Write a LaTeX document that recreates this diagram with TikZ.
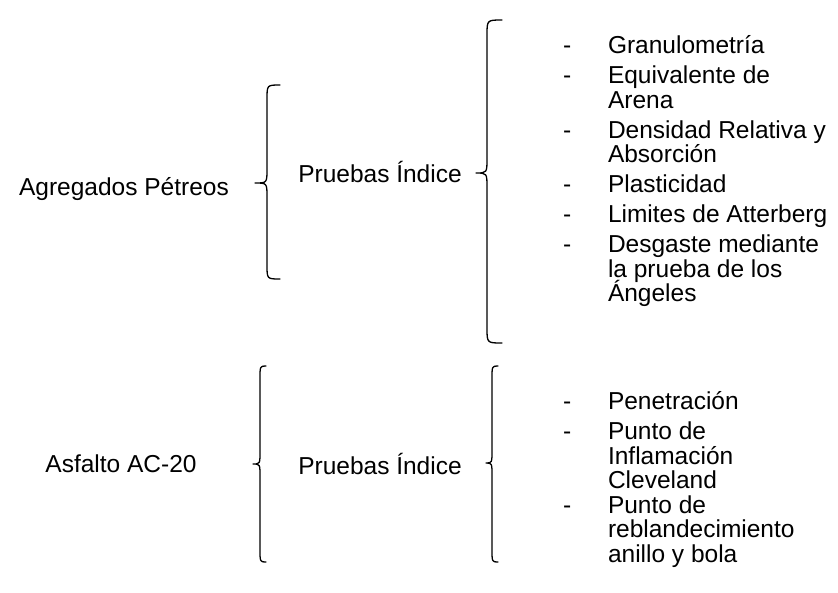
\documentclass[tikz,border=0pt]{standalone}
\usepackage{fontspec}
\setmainfont{Liberation Sans}
\newcommand{\curlybr}[7]{% xend xline xtip ytop ymid ybot r
  \draw[bracestyle] (#1,#4) .. controls (#2,#4) .. (#2,#4+#7) -- (#2,#5-#7)
    .. controls (#2,#5) .. (#3,#5) .. controls (#2,#5) .. (#2,#5+#7)
    -- (#2,#6-#7) .. controls (#2,#6) .. (#1,#6);}
\begin{document}
\begin{tikzpicture}[x=1pt,y=-1pt,
  bracestyle/.style={line width=1.3pt,line cap=round,line join=round},
  lbl/.style={font=\fontsize{24.5}{24.5}\selectfont,inner sep=0pt,outer sep=0pt},
  itm/.style={lbl,anchor=base west},
  dsh/.style={lbl,anchor=base west}]
\useasboundingbox (0,0) rectangle (838,592);
% left labels
\node[lbl] (agr) at (124,189) {Agregados Pétreos};
\node[lbl] (pr1) at (380,172) {Pruebas Índice};
\node[lbl] (asf) at (121,464) {Asfalto AC-20};
\node[lbl] (pr2) at (380,464) {Pruebas Índice};
% braces
\curlybr{280}{267}{255}{85}{183}{279}{14}
\curlybr{502}{487}{476}{20}{173}{343}{15}
\curlybr{266}{260}{253}{366}{464}{562}{13}
\curlybr{498}{492}{486}{366}{463}{562}{13}
% top list
\node[dsh] (d1) at (563,53.5) {-};
\node[itm] (t1) at (608,53.5) {Granulometría};
\node[dsh] (d2) at (563,83.5) {-};
\node[itm] (t2a) at (608,83.5) {Equivalente de};
\node[itm] (t2b) at (608,108) {Arena};
\node[dsh] (d3) at (563,138) {-};
\node[itm] (t3a) at (608,138) {Densidad Relativa y};
\node[itm] (t3b) at (608,162.5) {Absorción};
\node[dsh] (d4) at (563,192.5) {-};
\node[itm] (t4) at (608,192.5) {Plasticidad};
\node[dsh] (d5) at (563,222.5) {-};
\node[itm] (t5) at (608,222.5) {Limites de Atterberg};
\node[dsh] (d6) at (563,252.5) {-};
\node[itm] (t6a) at (608,252.5) {Desgaste mediante};
\node[itm] (t6b) at (608,277) {la prueba de los};
\node[itm] (t6c) at (608,301.5) {Ángeles};
% bottom list
\node[dsh] (e1) at (563,409.5) {-};
\node[itm] (b1) at (608,409.5) {Penetración};
\node[dsh] (e2) at (563,439.5) {-};
\node[itm] (b2a) at (608,439.5) {Punto de};
\node[itm] (b2b) at (608,464) {Inflamación};
\node[itm] (b2c) at (608,488.5) {Cleveland};
\node[dsh] (e3) at (563,513) {-};
\node[itm] (b3a) at (608,513) {Punto de};
\node[itm] (b3b) at (608,537.5) {reblandecimiento};
\node[itm] (b3c) at (608,562) {anillo y bola};
\end{tikzpicture}
\end{document}
